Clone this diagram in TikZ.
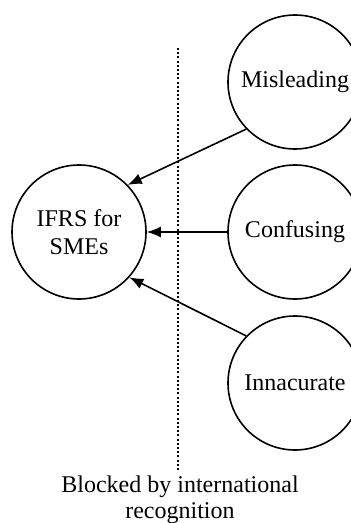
\documentclass[tikz,border=0pt]{standalone}
\usepackage{fontspec}
\setmainfont{Liberation Serif}
\usetikzlibrary{arrows.meta}
\begin{document}
\begin{tikzpicture}[x=1pt,y=1pt,
  bubble/.style={draw, circle, line width=1.6pt, minimum size=134pt, inner sep=0pt,
    font=\fontsize{24}{28}\selectfont, align=center},
  link/.style={line width=1.6pt, -{Latex[length=14pt,width=11pt]}},
  divider/.style={line width=1.5pt, dash pattern=on 2pt off 2.2pt}]
\useasboundingbox (0,0) rectangle (351,-523);
\node[bubble] (I) at (79,-232) {IFRS for\\SMEs};
\node[bubble] (M) at (295,-82) {Misleading};
\node[bubble] (C) at (295,-232) {Confusing};
\node[bubble] (N) at (295,-383) {Innacurate};
\coordinate (top) at (178,-48);
\coordinate (bot) at (178,-472);
\draw[divider] (top) -- (bot);
\node[font=\fontsize{24}{26}\selectfont, align=center, anchor=north] (B) at (180,-472) {Blocked by international\\recognition};
\draw[link] (M.224) -- (I.44);
\draw[link] (C.west) -- (I.east);
\draw[link] (N.136) -- (I.318);
\end{tikzpicture}
\end{document}
